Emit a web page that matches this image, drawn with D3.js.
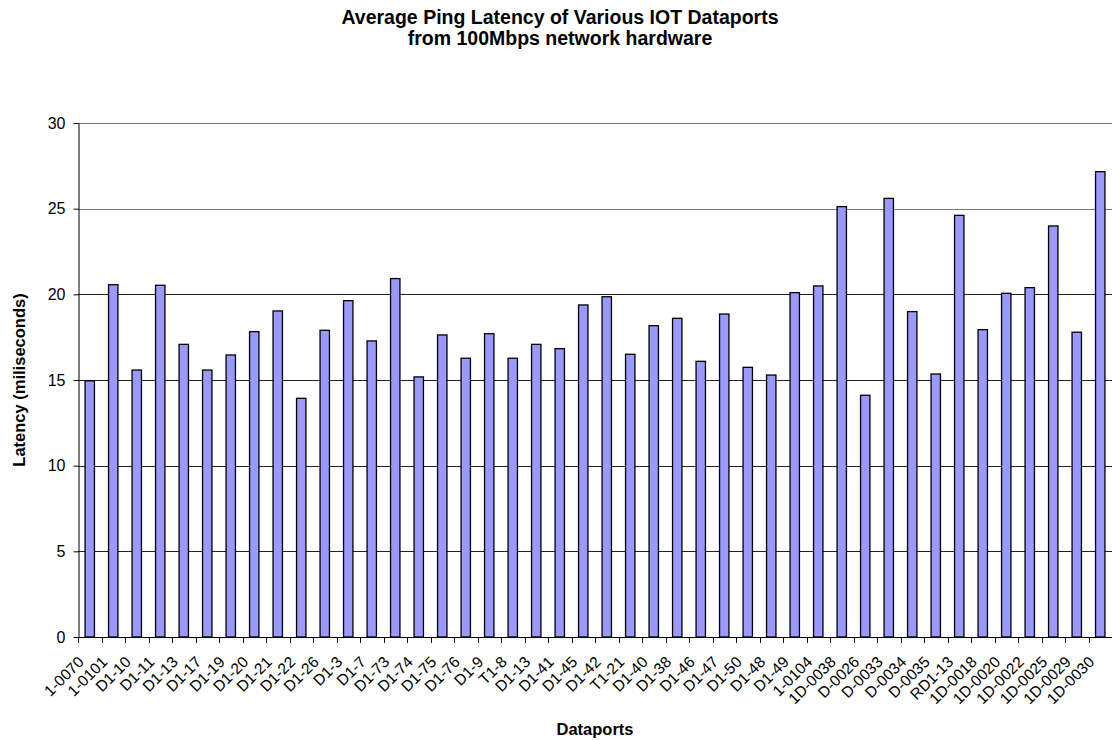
<!DOCTYPE html>
<html>
<head>
<meta charset="utf-8">
<script src="https://cdn.jsdelivr.net/npm/d3@7"></script>
<style>
  body { margin: 0; background: #fff; }
  svg text { font-family: "Liberation Sans", Arial, sans-serif; }
</style>
</head>
<body>
<div id="chart"></div>
<script>
// Data
var ports = ["1-0070", "1-0101", "D1-10", "D1-11", "D1-13", "D1-17", "D1-19", "D1-20", "D1-21", "D1-22",
  "D1-26", "D1-3", "D1-7", "D1-73", "D1-74", "D1-75", "D1-76", "D1-9", "T1-8", "D1-13",
  "D1-41", "D1-45", "D1-42", "T1-21", "D1-40", "D1-38", "D1-46", "D1-47", "D1-50", "D1-48",
  "D1-49", "1-0104", "1D-0038", "D-0026", "D-0033", "D-0034", "D-0035", "RD1-13", "1D-0018", "1D-0020",
  "1D-0022", "1D-0025", "1D-0029", "1D-0030"];
var latency = [14.95, 20.56, 15.58, 20.53, 17.08, 15.58, 16.46, 17.82, 19.03, 13.93,
  17.9, 19.63, 17.28, 20.92, 15.18, 17.63, 16.27, 17.7, 16.27, 17.08,
  16.83, 19.38, 19.86, 16.5, 18.17, 18.6, 16.09, 18.85, 15.74, 15.29,
  20.1, 20.49, 25.12, 14.11, 25.6, 18.99, 15.35, 24.61, 17.94, 20.06,
  20.39, 23.99, 17.79, 27.16];
var yTicks = [0, 5, 10, 15, 20, 25, 30];

var data = ports.map(function (p, i) { return { key: i, name: p, value: latency[i] }; });

var W = 1112, H = 740;
var margin = { top: 123, right: 0, bottom: 103, left: 78 };
var width = W - margin.left - margin.right;
var height = H - margin.top - margin.bottom;

var svg = d3.select("#chart")
  .append("svg")
  .attr("width", W)
  .attr("height", H);

// Title
var title = svg.append("text")
  .attr("x", 560)
  .attr("y", 24)
  .attr("text-anchor", "middle")
  .style("font-size", "19.5px")
  .style("font-weight", "bold");
title.append("tspan").attr("x", 560).text("Average Ping Latency of Various IOT Dataports");
title.append("tspan").attr("x", 560).attr("dy", 21).text("from 100Mbps network hardware");

var g = svg.append("g")
  .attr("transform", "translate(" + margin.left + "," + margin.top + ")");

var xScale = d3.scaleBand()
  .domain(data.map(function (d) { return d.key; }))
  .range([0, width])
  .padding(0);

var yScale = d3.scaleLinear()
  .domain([0, 30])
  .range([height, 0]);

// Gridlines
g.selectAll(".grid")
  .data(yTicks.filter(function (t) { return t > 0; }))
  .enter()
  .append("line")
  .attr("class", "grid")
  .attr("x1", 0)
  .attr("x2", width)
  .attr("y1", function (d) { return Math.round(yScale(d)) + 0.5; })
  .attr("y2", function (d) { return Math.round(yScale(d)) + 0.5; })
  .attr("stroke", function (d) { return d > 20 ? "#777" : "#222"; })
  .attr("stroke-width", 1);

// Bars
var barW = xScale.bandwidth() * 0.4;
g.selectAll(".bar")
  .data(data)
  .enter()
  .append("rect")
  .attr("class", "bar")
  .attr("x", function (d) { return xScale(d.key) + (xScale.bandwidth() - barW) / 2; })
  .attr("y", function (d) { return yScale(d.value); })
  .attr("width", barW)
  .attr("height", function (d) { return height - yScale(d.value); })
  .attr("fill", "#9999FF")
  .attr("stroke", "#000")
  .attr("stroke-width", 1.3);

// Y axis
var yAxis = d3.axisLeft(yScale)
  .tickValues(yTicks)
  .tickSize(5)
  .tickSizeOuter(0);

var yG = g.append("g")
  .attr("class", "y axis")
  .attr("transform", "translate(0.5,0)")
  .call(yAxis);
yG.select(".domain").attr("stroke", "#000");
yG.selectAll("text")
  .style("font-size", "16px")
  .attr("fill", "#000")
  .attr("x", -13);

// X axis: ticks at category boundaries
var xG = g.append("g")
  .attr("class", "x axis")
  .attr("transform", "translate(0," + height + ")");
xG.append("line")
  .attr("x1", 0).attr("x2", width)
  .attr("y1", 0.5).attr("y2", 0.5)
  .attr("stroke", "#000");
xG.selectAll(".xtick")
  .data(data)
  .enter()
  .append("line")
  .attr("class", "xtick")
  .attr("x1", function (d) { return Math.round(xScale(d.key)) + 0.5; })
  .attr("x2", function (d) { return Math.round(xScale(d.key)) + 0.5; })
  .attr("y1", 0)
  .attr("y2", 6)
  .attr("stroke", "#000");

xG.selectAll(".xlabel")
  .data(data)
  .enter()
  .append("text")
  .attr("class", "xlabel")
  .attr("text-anchor", "end")
  .style("font-size", "15.5px")
  .attr("transform", function (d) {
    var cx = xScale(d.key) + xScale.bandwidth() / 2 - 5;
    return "translate(" + cx + ",26) rotate(-45)";
  })
  .text(function (d) { return d.name; });

// Axis titles
svg.append("text")
  .attr("x", margin.left + width / 2)
  .attr("y", 735)
  .attr("text-anchor", "middle")
  .style("font-size", "16.5px")
  .style("font-weight", "bold")
  .text("Dataports");

svg.append("text")
  .attr("transform", "translate(25," + (margin.top + height / 2) + ") rotate(-90)")
  .attr("text-anchor", "middle")
  .style("font-size", "16.5px")
  .style("font-weight", "bold")
  .text("Latency (miliseconds)");
</script>
</body>
</html>
